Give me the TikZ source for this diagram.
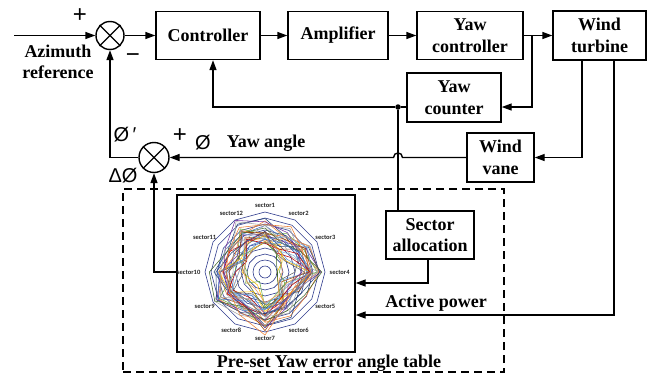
\documentclass[tikz,border=0pt]{standalone}
\usepackage{fontspec}
\setmainfont{Liberation Serif}
\newfontfamily\symfont{Liberation Sans}
\newfontfamily\radfont{Carlito}
\usetikzlibrary{arrows.meta}
\definecolor{gridblue}{RGB}{46,58,140}
\definecolor{s0}{HTML}{4472C4}
\definecolor{s1}{HTML}{ED7D31}
\definecolor{s2}{HTML}{A5A5A5}
\definecolor{s3}{HTML}{FFC000}
\definecolor{s4}{HTML}{5B9BD5}
\definecolor{s5}{HTML}{70AD47}
\definecolor{s6}{HTML}{264478}
\definecolor{s7}{HTML}{9E480E}
\definecolor{s8}{HTML}{636363}
\definecolor{s9}{HTML}{C00000}
\definecolor{s10}{HTML}{7030A0}
\definecolor{s11}{HTML}{43682B}
\definecolor{s12}{HTML}{7CAFDD}
\definecolor{s13}{HTML}{F1975A}
\begin{document}
\begin{tikzpicture}[x=1pt,y=-1pt,
  ln/.style={line width=1.4pt},
  arr/.style={-{Triangle[length=10pt,width=7pt]}},
  blk/.style={draw, line width=1.4pt, minimum height=48pt, inner sep=0pt, align=center,
    font=\fontsize{18}{21.5}\selectfont\bfseries},
  sumnode/.style={circle, draw, line width=1.4pt, inner sep=0pt},
  lbl/.style={font=\fontsize{18}{21}\selectfont\bfseries, inner sep=0pt, align=center},
  sym/.style={font=\symfont\fontsize{20}{22}\selectfont, inner sep=0pt},
  pm/.style={font=\symfont\fontsize{24}{26}\selectfont, inner sep=0pt},
  rlab/.style={font=\radfont\bfseries\fontsize{6.5}{7}\selectfont, text=black!85, inner sep=0.5pt},
  dot/.style={circle, fill, inner sep=0pt, minimum size=5.5pt}]
\useasboundingbox (0,0) rectangle (655,375);

% blocks
\node[sumnode, minimum size=28pt] (s1) at (110,35.5) {};
\node[blk, minimum width=104pt] (ctrl) at (208,35.5) {Controller};
\node[blk, minimum width=100pt] (amp) at (338,35.5) {Amplifier};
\node[blk, minimum width=106pt] (yc) at (470,35.5) {Yaw\\controller};
\node[blk, minimum width=93pt, minimum height=49pt] (wt) at (599.5,35.5) {Wind\\turbine};
\node[blk, minimum width=94pt, minimum height=49pt] (ycnt) at (454,97.5) {Yaw\\counter};
\node[blk, minimum width=67pt, minimum height=49pt] (wv) at (500.5,157.5) {Wind\\vane};
\node[sumnode, minimum size=30pt] (s2) at (154,157.5) {};
\node[blk, minimum width=88pt] (sa) at (430,235) {Sector\\allocation};
\node[draw, dashed, line width=1.4pt, dash pattern=on 8pt off 5pt, minimum width=381pt, minimum height=183pt, inner sep=0pt] (tbl) at (313.5,280.5) {};
\node[draw, line width=1.4pt, minimum width=178pt, minimum height=157pt, inner sep=0pt] (chart) at (266,273.5) {};

% crosses in summing junctions
\draw[ln] (s1.north west) -- (s1.south east) (s1.north east) -- (s1.south west);
\draw[ln] (s2.north west) -- (s2.south east) (s2.north east) -- (s2.south west);

% radar chart grid
\foreach \r in {18,24,...,60}{
  \draw[gridblue, line width=0.6pt] plot[samples at={0,...,11}] ({265+\r*cos(90-30*\x)},{272-\r*sin(90-30*\x)}) -- cycle;
}
\draw[gridblue, line width=0.6pt] (265,272) circle[radius=6] (265,272) circle[radius=12];

% radar data series
\def\basearr{{44,40,44,50,36,42,53,42,50,44,38,48}}
\foreach \i in {1,...,30}{
  \pgfmathtruncatemacro\ci{mod(\i,14)}
  \pgfmathsetmacro\sc{ifthenelse(mod(\i,8)==3,0.5,0.88+0.14*sin(\i*77))}
  \foreach \k in {0,...,11}{
    \pgfmathsetmacro\rr{\basearr[\k]*\sc+8*sin(\i*137+\k*71)+5*sin(\i*\k*29+11)}
    \coordinate (d\k) at ({265+\rr*cos(90-30*\k)},{272-\rr*sin(90-30*\k)});
  }
  \draw[s\ci, line width=0.55pt] (d0)--(d1)--(d2)--(d3)--(d4)--(d5)--(d6)--(d7)--(d8)--(d9)--(d10)--(d11)--cycle;
}

% radar labels
\foreach \k in {1,...,12}{
  \pgfmathsetmacro\a{90-30*(\k-1)}
  \pgfmathsetmacro\an{\a+180}
  \node[rlab, anchor=\an] (rl\k) at ({265+64*cos(\a)},{272-64*sin(\a)}) {sector\k};
}

% connectors
\coordinate (in) at (14,35.5);
\draw[ln,arr] (in) -- (s1.west);
\draw[ln,arr] (s1.east) -- (ctrl.west);
\draw[ln,arr] (ctrl.east) -- (amp.west);
\draw[ln,arr] (amp.east) -- (yc.west);
\draw[ln,arr] (yc.east) -- (wt.west);
\coordinate (br) at (532,35.5);
\coordinate (b1) at (532,107);
\draw[ln,arr] (br) -- (b1) -- (ycnt.east |- b1);
\node[dot] (jd) at (398,107) {};
\draw[ln] (ycnt.west |- jd) -- (jd);
\coordinate (c1) at (213,107);
\draw[ln,arr] (jd) -- (c1) -- (c1 |- ctrl.south);
\draw[ln] (jd) -- (jd |- sa.north);
\coordinate (w1) at (582,157.5);
\draw[ln,arr] (w1 |- wt.south) -- (w1) -- (wv.east);
\coordinate (w2) at (614,315);
\draw[ln,arr] (w2 |- wt.south) -- (w2) -- (chart.east |- w2);
\coordinate (h1) at (402.5,157.5);
\coordinate (h2) at (393.5,157.5);
\draw[ln,arr] (wv.west) -- (h1) .. controls (402.5,151.5) and (393.5,151.5) .. (h2) -- (s2.east);
\draw[ln,arr] (s2.west) -- (s1.south |- s2.west) -- (s1.south);
\coordinate (c2) at (154,272);
\draw[ln,arr] (chart.west |- c2) -- (c2) -- (s2.south);
\coordinate (c3) at (428,283);
\draw[ln,arr] (c3 |- sa.south) -- (c3) -- (chart.east |- c3);

% labels
\node[pm] (p1) at (80,16) {+};
\node[pm] (m1) at (133,58) {−};
\node[lbl] (az) at (58,62) {Azimuth\\reference};
\node[sym] (phip) at (125,135) {Ø\,′};
\node[pm] (p2) at (180,136) {+};
\node[sym] (phi) at (203,143) {Ø};
\node[lbl] (ya) at (266,143) {Yaw angle};
\node[sym] (dphi) at (123,176) {ΔØ};
\node[lbl] (ap) at (436,303) {Active power};
\node[lbl] (tt) at (329,363) {Pre-set Yaw error angle table};
\end{tikzpicture}
\end{document}
